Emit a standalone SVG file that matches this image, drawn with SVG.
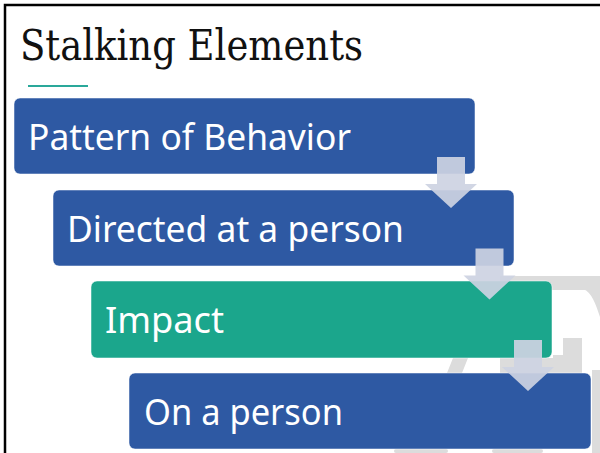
<svg xmlns="http://www.w3.org/2000/svg" width="600" height="453" viewBox="0 0 600 453">
<style>
.box{stroke:#ffffff;stroke-opacity:0.5;stroke-width:1}
.blue{fill:#2e59a3}
.teal{fill:#1ba68c}
.lbl{font-family:"Noto Sans","Open Sans","Liberation Sans",sans-serif;font-size:37px;fill:#ffffff}
.wm{fill:#dcdcdc}
.arr{fill:#cdd2e2;fill-opacity:0.92}
</style>
<rect x="0" y="0" width="600" height="453" fill="#ffffff"/>
<g id="watermark">
<rect class="wm" x="500" y="276" width="100" height="14"/>
<path class="wm" d="M583,289 C592,292 596,305 600,317 L600,289 Z"/>
<rect class="wm" x="563" y="338" width="19" height="35"/>
<rect class="wm" x="553" y="355" width="12" height="5"/>
<rect class="wm" x="500" y="358" width="82" height="15"/>
<polygon class="wm" points="453,358 468,358 462,373 447,373"/>
<rect class="wm" x="592" y="370" width="8" height="83"/>
<rect class="wm" x="394" y="449" width="54" height="4" rx="2"/>
<rect class="wm" x="492" y="449" width="51" height="4" rx="2"/>
</g>
<path d="M5,453 L5,5 L600,5" fill="none" stroke="#000000" stroke-width="2.5"/>
<g id="title">
<text x="20" y="60" font-family="'DejaVu Serif','Liberation Serif',serif" font-size="42" fill="#111111" textLength="343" lengthAdjust="spacingAndGlyphs">Stalking Elements</text>
<rect x="28" y="85" width="60" height="2" fill="#2aa89a"/>
</g>
<g id="node1">
<rect class="box blue" x="14" y="98" width="461" height="76" rx="6"/>
<text class="lbl" x="28" y="150" textLength="323" lengthAdjust="spacingAndGlyphs">Pattern of Behavior</text>
</g>
<g id="node2">
<rect class="box blue" x="53" y="190" width="461" height="76" rx="6"/>
<text class="lbl" x="67" y="242" textLength="337" lengthAdjust="spacingAndGlyphs">Directed at a person</text>
</g>
<g id="node3">
<rect class="box teal" x="91" y="281" width="461" height="77" rx="6"/>
<text class="lbl" x="105" y="333" textLength="119" lengthAdjust="spacingAndGlyphs">Impact</text>
</g>
<g id="node4">
<rect class="box blue" x="129" y="373" width="462" height="76" rx="6"/>
<text class="lbl" x="144" y="425" textLength="199" lengthAdjust="spacingAndGlyphs">On a person</text>
</g>
<g id="connectors">
<polygon class="arr" points="437,157 465,157 465,184 477,184 451,208 425,184 437,184"/>
<polygon class="arr" points="475.5,248.5 503.5,248.5 503.5,275.5 515.5,275.5 489.5,299.5 463.5,275.5 475.5,275.5"/>
<polygon class="arr" points="514,340 542,340 542,367 554,367 528,391 502,367 514,367"/>
</g>
</svg>
